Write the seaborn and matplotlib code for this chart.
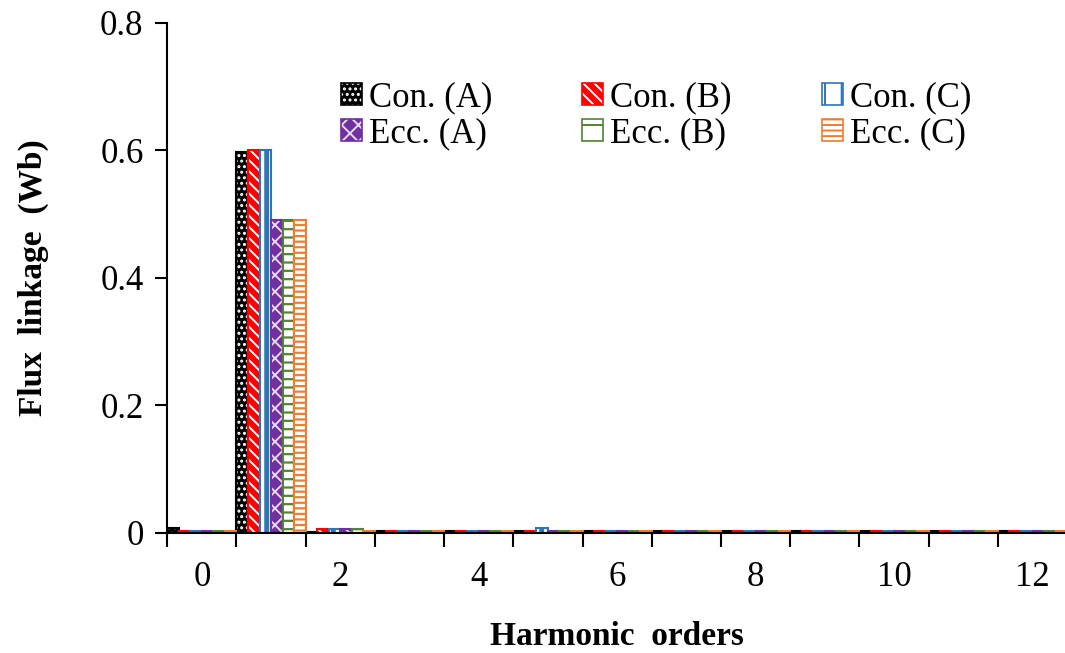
import numpy as np
import pandas as pd
import matplotlib
matplotlib.use("Agg")
import matplotlib.pyplot as plt
from matplotlib.patches import Patch
from matplotlib.colors import to_rgba
import seaborn as sns

# harmonic orders and flux linkage amplitudes (Wb)
orders = list(range(13))
con_a = [0.007, 0.598, 0.002, 0.003, 0.003, 0.003, 0.003, 0.003, 0.003, 0.003, 0.003, 0.003, 0.003]
con_b = [0.003, 0.600, 0.006, 0.003, 0.003, 0.003, 0.003, 0.003, 0.003, 0.003, 0.003, 0.003, 0.003]
con_c = [0.003, 0.600, 0.006, 0.003, 0.003, 0.007, 0.003, 0.003, 0.003, 0.003, 0.003, 0.003, 0.003]
ecc_a = [0.003, 0.490, 0.006, 0.003, 0.003, 0.003, 0.003, 0.003, 0.003, 0.003, 0.003, 0.003, 0.003]
ecc_b = [0.003, 0.490, 0.006, 0.003, 0.003, 0.003, 0.003, 0.003, 0.003, 0.003, 0.003, 0.003, 0.003]
ecc_c = [0.003, 0.490, 0.003, 0.003, 0.003, 0.003, 0.003, 0.003, 0.003, 0.003, 0.003, 0.003, 0.003]
series = ["Con. (A)", "Con. (B)", "Con. (C)", "Ecc. (A)", "Ecc. (B)", "Ecc. (C)"]
values = [con_a, con_b, con_c, ecc_a, ecc_b, ecc_c]

# style per series: face colour, hatch, hatch colour, hatch width (outline = series colour)
colors = ["#000000", "#ff0000", "#2e75b6", "#7030a0", "#548235", "#ed7d31"]
styles = [
    ("#000000", "...", "#ffffff", 1.4),
    ("#ff0000", "\\\\\\", "#ffffff", 1.4),
    ("#2e75b6", "||", "#ffffff", 2.5),
    ("#7030a0", "xx", "#e6d8f0", 1.4),
    ("#ffffff", "--", "#548235", 1.6),
    ("#ffffff", "---", "#ed7d31", 1.6),
]

rows = []
for name, vals in zip(series, values):
    for o, v in zip(orders, vals):
        rows.append({"order": o, "series": name, "flux": v})
df = pd.DataFrame(rows)

sns.set_style("ticks")
plt.rcParams["font.family"] = ["Liberation Serif", "DejaVu Serif"]
plt.rcParams["hatch.linewidth"] = 1.4
plt.rcParams["text.color"] = "black"
plt.rcParams["axes.labelcolor"] = "black"
plt.rcParams["xtick.color"] = "black"
plt.rcParams["ytick.color"] = "black"

fig = plt.figure(figsize=(10.65, 6.53), dpi=100)
ax = fig.add_axes([0.157, 0.184, 0.845, 0.781])

sns.barplot(data=df, x="order", y="flux", hue="series", hue_order=series,
            palette=colors, width=1.0, gap=0, dodge=True, legend=False, ax=ax)


def style_patch(p, face, hatch, hcol, hlw, edge, lw):
    p.set_facecolor(face)
    p.set_hatch(hatch)
    p.set_edgecolor(edge)
    p.set_linewidth(lw)
    p._hatch_color = to_rgba(hcol)
    if hasattr(p, "_hatch_linewidth"):
        p._hatch_linewidth = hlw


for cont, (face, hatch, hcol, hlw), col in zip(ax.containers, styles, colors):
    for p in cont:
        style_patch(p, face, hatch, hcol, hlw, col, 1.5)

ax.set_xlim(-0.5, 12.5)
ax.set_ylim(0, 0.8)
ax.set_yticks([0, 0.2, 0.4, 0.6, 0.8])
ax.set_yticklabels(["0", "0.2", "0.4", "0.6", "0.8"])
ax.set_xticks(range(0, 13, 2))
ax.set_xticklabels([str(o) for o in range(0, 13, 2)])
ax.set_xticks(np.arange(-0.5, 13, 1), minor=True)
ax.tick_params(axis="x", which="major", length=0, pad=20, labelsize=25)
ax.tick_params(axis="x", which="minor", length=10, width=1.5)
ax.tick_params(axis="y", which="major", length=9, width=1.5, pad=8, labelsize=25)

sns.despine(ax=ax)
for s in ["left", "bottom"]:
    ax.spines[s].set_color("black")
    ax.spines[s].set_linewidth(1.5)

ax.set_xlabel("Harmonic  orders", fontsize=24, fontweight="bold", labelpad=20)
ax.set_ylabel("Flux  linkage  (Wb)", fontsize=24, fontweight="bold", labelpad=37)

handles = []
for face, hatch, hcol, hlw in [("#000000", "...", "#ffffff", 1.4),
                               ("#ff0000", "\\\\\\", "#ffffff", 1.4),
                               ("#ffffff", "|", "#2e75b6", 1.4),
                               ("#7030a0", "xx", "#e6d8f0", 1.4),
                               ("#ffffff", "-", "#548235", 1.6),
                               ("#ffffff", "---", "#ed7d31", 1.6)]:
    handles.append((face, hatch, hcol, hlw))
legend_patches = []
for (face, hatch, hcol, hlw), col in zip(handles, colors):
    h = Patch(facecolor=face, edgecolor=col, hatch=hatch, linewidth=1.2)
    h._hatch_color = to_rgba(hcol)
    legend_patches.append(h)

# matplotlib fills legend columns first: interleave so rows read Con / Ecc
order_idx = [0, 3, 1, 4, 2, 5]
leg = ax.legend([legend_patches[i] for i in order_idx], [series[i] for i in order_idx],
                ncol=3, frameon=False, fontsize=25,
                loc="upper center", bbox_to_anchor=(0.543, 0.913),
                handlelength=0.6, handleheight=0.6, handletextpad=0.2,
                columnspacing=2.6, labelspacing=0.08, borderaxespad=0)

fig.savefig("out.png", dpi=100)
